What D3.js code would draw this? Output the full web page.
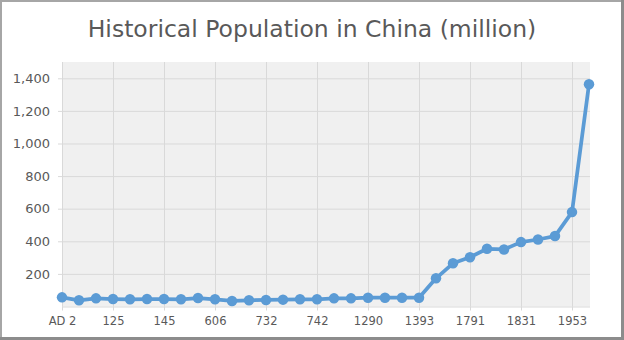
<!DOCTYPE html>
<html><head><meta charset="utf-8">
<script src="https://cdn.jsdelivr.net/npm/d3@7"></script>
<style>
html,body{margin:0;padding:0;background:#fff;}
svg{display:block;font-family:"DejaVu Sans",sans-serif;}
</style></head>
<body>
<svg id="chart" width="624" height="340"></svg>
<script>
const title = "Historical Population in China (million)";
const categories = ["AD 2","57","105","125","140","144","145","146","156","606","705","726","732","733","734","742","755","1110","1290","1330","1381","1393","1650","1749","1791","1811","1821","1831","1841","1851","1953","2010"];
const tickLabelEvery = 3;
const population = [56,38,50,46,44,46,46,44,52,44,34,38,40,42,44,44,50,50,54,54,54,54,173,265,302,354,350,395,411,432,579,1363];
const yTicks = [200,400,600,800,1000,1200,1400];
const yDomain = [0,1500];

(function(){
const svg = d3.select("#chart");
const W = 624, H = 340;
const pl = 62, pr = 590, pt = 62, pb = 306.5;

svg.append("rect").attr("x",0).attr("y",0).attr("width",W).attr("height",H).attr("fill","#fff");

svg.append("text").attr("x",312).attr("y",37).attr("text-anchor","middle")
  .attr("font-size",23.5).attr("fill","#595959").text(title);

svg.append("rect").attr("x",pl).attr("y",pt).attr("width",pr-pl).attr("height",pb-pt).attr("fill","#f0f0f0");

const x = d3.scalePoint().domain(categories).range([62,589]).padding(0);
const y = d3.scaleLinear().domain(yDomain).range([pb,pt]);

const yAxis = d3.axisLeft(y).tickValues(yTicks).tickSize(4).tickPadding(8).tickFormat(d3.format(","));
const gy = svg.append("g").attr("transform",`translate(${pl},0)`).call(yAxis);
gy.select(".domain").remove();
gy.selectAll(".tick line").attr("stroke","#d9d9d9");
gy.selectAll(".tick").append("line").attr("x1",0).attr("x2",pr-pl).attr("stroke","#d9d9d9").attr("stroke-width",1);
gy.selectAll(".tick text").attr("font-size",13).attr("fill","#595959").attr("font-family","DejaVu Sans");

const labeled = categories.filter((d,i)=>i%tickLabelEvery===0);
const xAxis = d3.axisBottom(x).tickValues(labeled).tickSize(4).tickPadding(6);
const gx = svg.append("g").attr("transform",`translate(0,${pb})`).call(xAxis);
gx.select(".domain").attr("stroke","#d9d9d9").attr("d",`M${pl},0.5H${pr}`);
gx.selectAll(".tick line").attr("stroke","#d9d9d9");
gx.selectAll(".tick").append("line").attr("y1",0).attr("y2",-(pb-pt)).attr("stroke","#d9d9d9");
gx.selectAll(".tick text").attr("font-size",11.5).attr("fill","#595959").attr("font-family","DejaVu Sans");

const color = "#5b9bd5";
const line = d3.line().x((d,i)=>x(categories[i])).y(d=>y(d));
svg.append("path").datum(population).attr("d",line).attr("fill","none")
  .attr("stroke",color).attr("stroke-width",3.75).attr("stroke-linejoin","round");
svg.append("g").selectAll("circle").data(population).join("circle")
  .attr("cx",(d,i)=>x(categories[i])).attr("cy",d=>y(d)).attr("r",5.25).attr("fill",color);

svg.append("rect").attr("x",1).attr("y",1).attr("width",W-2.5).attr("height",H-2.5)
  .attr("fill","none").attr("stroke","#a6a6a6").attr("stroke-width",2);
svg.append("line").attr("x1",W-1.5).attr("x2",W-1.5).attr("y1",0).attr("y2",H).attr("stroke","#8c8c8c").attr("stroke-width",3);
svg.append("line").attr("x1",0).attr("x2",W).attr("y1",H-1.5).attr("y2",H-1.5).attr("stroke","#8c8c8c").attr("stroke-width",3);
})();
</script>
</body></html>
